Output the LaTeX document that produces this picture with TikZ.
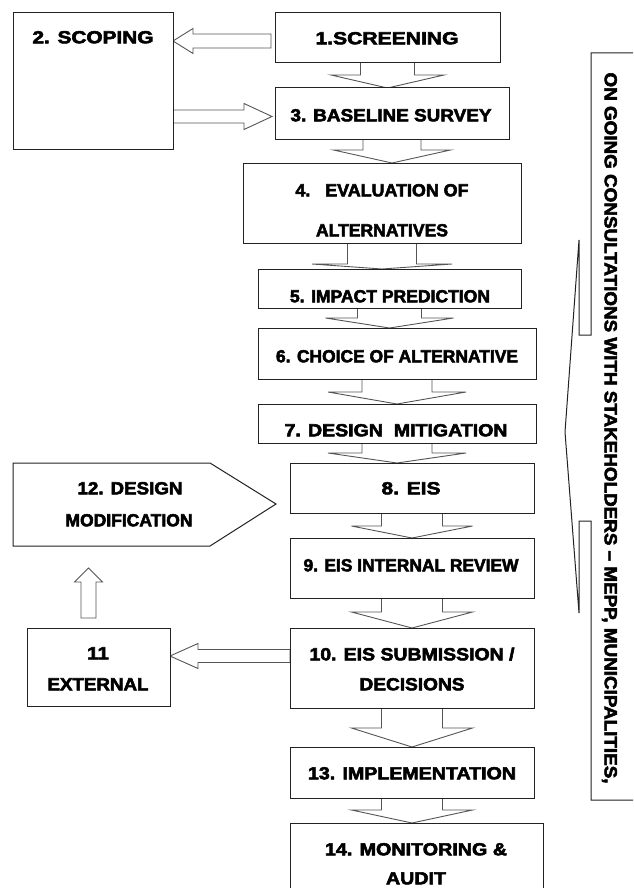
\documentclass[tikz,border=0pt]{standalone}
\usepackage{fontspec}
\usepackage{graphicx}
\setmainfont{Liberation Sans}[BoldFeatures={FakeBold=3}]
\usetikzlibrary{calc}
\definecolor{boxline}{HTML}{222222}
\definecolor{arrline}{HTML}{555555}
\tikzset{
  box/.style={draw=boxline, line width=1pt, fill=white, inner sep=0pt, outer sep=0pt, rectangle},
  lbl/.style={inner sep=0pt, outer sep=0pt, text height=12.6pt, text depth=0pt, font=\fontsize{17.5}{20}\selectfont\bfseries},
  barrow/.style={draw=arrline, line width=0.9pt, fill=white, line join=miter},
  slot/.style={minimum width=#1, inner sep=0pt, outer sep=0pt},
}
\newcommand{\TW}[2]{\resizebox{#1pt}{\height}{#2}}
% down block arrow between upper node #1 and lower node #2
\newcommand{\darrow}[5]{%
  \draw[barrow] let \p1=(#1.south), \p2=(#2.north) in
   (\x1-#3pt,\y1) -- (\x1-#3pt,\y2+#5pt) -- (\x1-#4pt,\y2+#5pt) -- (\x1,\y2)
   -- (\x1+#4pt,\y2+#5pt) -- (\x1+#3pt,\y2+#5pt) -- (\x1+#3pt,\y1);
}
\begin{document}
\begin{tikzpicture}[x=1pt,y=-1pt]
\clip (0,0) rectangle (633,888);
\fill[white] (0,0) rectangle (633,888);

% ---- box nodes (positions) ----
\path (387.5,38) node[slot=225pt, minimum height=50pt] (b1) {};
\path (93,81) node[slot=160pt, minimum height=136pt] (b2) {};
\path (392,113.5) node[slot=234pt, minimum height=51pt] (b3) {};
\path (382,203) node[slot=278pt, minimum height=80pt] (b4) {};
\path (389.5,288.5) node[slot=263pt, minimum height=39pt] (b5) {};
\path (397,353.5) node[slot=278pt, minimum height=51pt] (b6) {};
\path (397,423.5) node[slot=278pt, minimum height=39pt] (b7) {};
\path (412,488) node[slot=244pt, minimum height=50pt] (b8) {};
\path (412,568) node[slot=244pt, minimum height=60pt] (b9) {};
\path (412,668) node[slot=244pt, minimum height=80pt] (b10) {};
\path (98.5,667) node[slot=143pt, minimum height=78pt] (b11) {};
\path (412,772.5) node[slot=244pt, minimum height=51pt] (b13) {};
\path (416.5,861.5) node[slot=253pt, minimum height=77pt] (b14) {};

% ---- block arrows first (boxes drawn over them) ----
\darrow{b1}{b3}{27}{56.5}{13}
\darrow{b3}{b4}{29}{58.5}{13}
\darrow{b4}{b5}{34.5}{70}{5}
\darrow{b5}{b6}{32}{64}{10}
\darrow{b6}{b7}{35}{69}{12}
\darrow{b7}{b8}{35}{69}{10}
\darrow{b8}{b9}{30.5}{60.5}{12}
\darrow{b9}{b10}{30.5}{60.5}{16}
\darrow{b10}{b13}{30.5}{60.5}{19}
\darrow{b13}{b14}{30.5}{60.5}{13}

% 1 -> 2 (left)
\draw[barrow] let \p1=(b1.west), \p2=(b2.east), \p3=(0,41) in
  (\x1-4pt,\y3+7pt) -- (\x2+20pt,\y3+7pt) -- (\x2+20pt,\y3+12.5pt) -- (\x2,\y3)
  -- (\x2+20pt,\y3-12.5pt) -- (\x2+20pt,\y3-7pt) -- (\x1-4pt,\y3-7pt) -- cycle;
% 2 -> 3 (right)
\draw[barrow] let \p1=(b2.east), \p2=(b3.west), \p3=(0,116.5) in
  (\x1,\y3+6.5pt) -- (\x2-31pt,\y3+6.5pt) -- (\x2-31pt,\y3+13pt) -- (\x2-3pt,\y3)
  -- (\x2-31pt,\y3-13pt) -- (\x2-31pt,\y3-6.5pt) -- (\x1,\y3-6.5pt) -- cycle;
% 10 -> 11 (left)
\draw[barrow] let \p1=(b10.west), \p2=(b11.east), \p3=(0,656) in
  (\x1,\y3+6.5pt) -- (\x2+28pt,\y3+6.5pt) -- (\x2+28pt,\y3+12.5pt) -- (\x2,\y3)
  -- (\x2+28pt,\y3-12.5pt) -- (\x2+28pt,\y3-6.5pt) -- (\x1,\y3-6.5pt) -- cycle;
% 11 -> 12 (up)
\coordinate (u0) at (88.5,618);
\coordinate (u1) at (88.5,568);
\draw[barrow] let \p1=(u0), \p2=(u1) in
  (\x1-7.5pt,\y1) -- (\x1-7.5pt,\y2-14pt) -- (\x1-14pt,\y2-14pt) -- (\x2,\y2)
  -- (\x1+14pt,\y2-14pt) -- (\x1+7.5pt,\y2-14pt) -- (\x1+7.5pt,\y1) -- cycle;

% ---- boxes ----
\foreach \n in {1,2,3,4,5,6,7,8,9,10,11,13,14}{
  \draw[draw=boxline, line width=1pt, fill=white] (b\n.north west) rectangle (b\n.south east);
}
% 12 pentagon
\coordinate (p1) at (13,463);
\coordinate (p2) at (210,463);
\coordinate (p3) at (276,504);
\coordinate (p4) at (210,546);
\coordinate (p5) at (13,546);
\draw[draw=boxline, line width=1pt, fill=white] (p1) -- (p2) -- (p3) -- (p4) -- (p5) -- cycle;

% right bracket
\draw[draw=boxline, line width=1pt, fill=white]
  (650,53) -- (591,53) -- (591,335) -- (579,335) -- (579,240) -- (565,432)
  -- (579,613) -- (579,521) -- (591,521) -- (591,800) -- (650,800);

% ---- texts ----
\node[lbl] (t2) at (93,37) {\TW{121}{2. SCOPING}};
\node[lbl] (t1) at (387,38) {\TW{143}{1.SCREENING}};
\node[lbl] (t3) at (391,115) {\TW{201}{3. BASELINE SURVEY}};
\node[lbl] (t4a) at (382,190) {\TW{173}{4.\ \ \ EVALUATION OF}};
\node[lbl] (t4b) at (382,230) {\TW{132}{ALTERNATIVES}};
\node[lbl] (t5) at (390,296) {\TW{200}{5. IMPACT PREDICTION}};
\node[lbl] (t6) at (397,356) {\TW{242}{6. CHOICE OF ALTERNATIVE}};
\node[lbl] (t7) at (396,430) {\TW{223}{7. DESIGN\ \ MITIGATION}};
\node[lbl] (t8) at (411,488) {\TW{59}{8. EIS}};
\node[lbl] (t9) at (411,565) {\TW{215}{9. EIS INTERNAL REVIEW}};
\node[lbl] (t12a) at (130,488) {\TW{105}{12. DESIGN}};
\node[lbl] (t12b) at (129,520) {\TW{127}{MODIFICATION}};
\node[lbl] (t11a) at (98,653) {\TW{22}{11}};
\node[lbl] (t11b) at (98,684) {\TW{101}{EXTERNAL}};
\node[lbl] (t10a) at (412,654) {\TW{205}{10. EIS SUBMISSION /}};
\node[lbl] (t10b) at (412,684) {\TW{105}{DECISIONS}};
\node[lbl] (t13) at (412,773) {\TW{208}{13. IMPLEMENTATION}};
\node[lbl] (t14a) at (416,849) {\TW{182}{14. MONITORING \&}};
\node[lbl] (t14b) at (416,878) {\TW{60}{AUDIT}};
\node[lbl, rotate=-90] (tv) at (611,428) {\TW{711}{ON GOING CONSULTATIONS WITH STAKEHOLDERS – MEPP, MUNICIPALITIES,}};
\end{tikzpicture}
\end{document}
